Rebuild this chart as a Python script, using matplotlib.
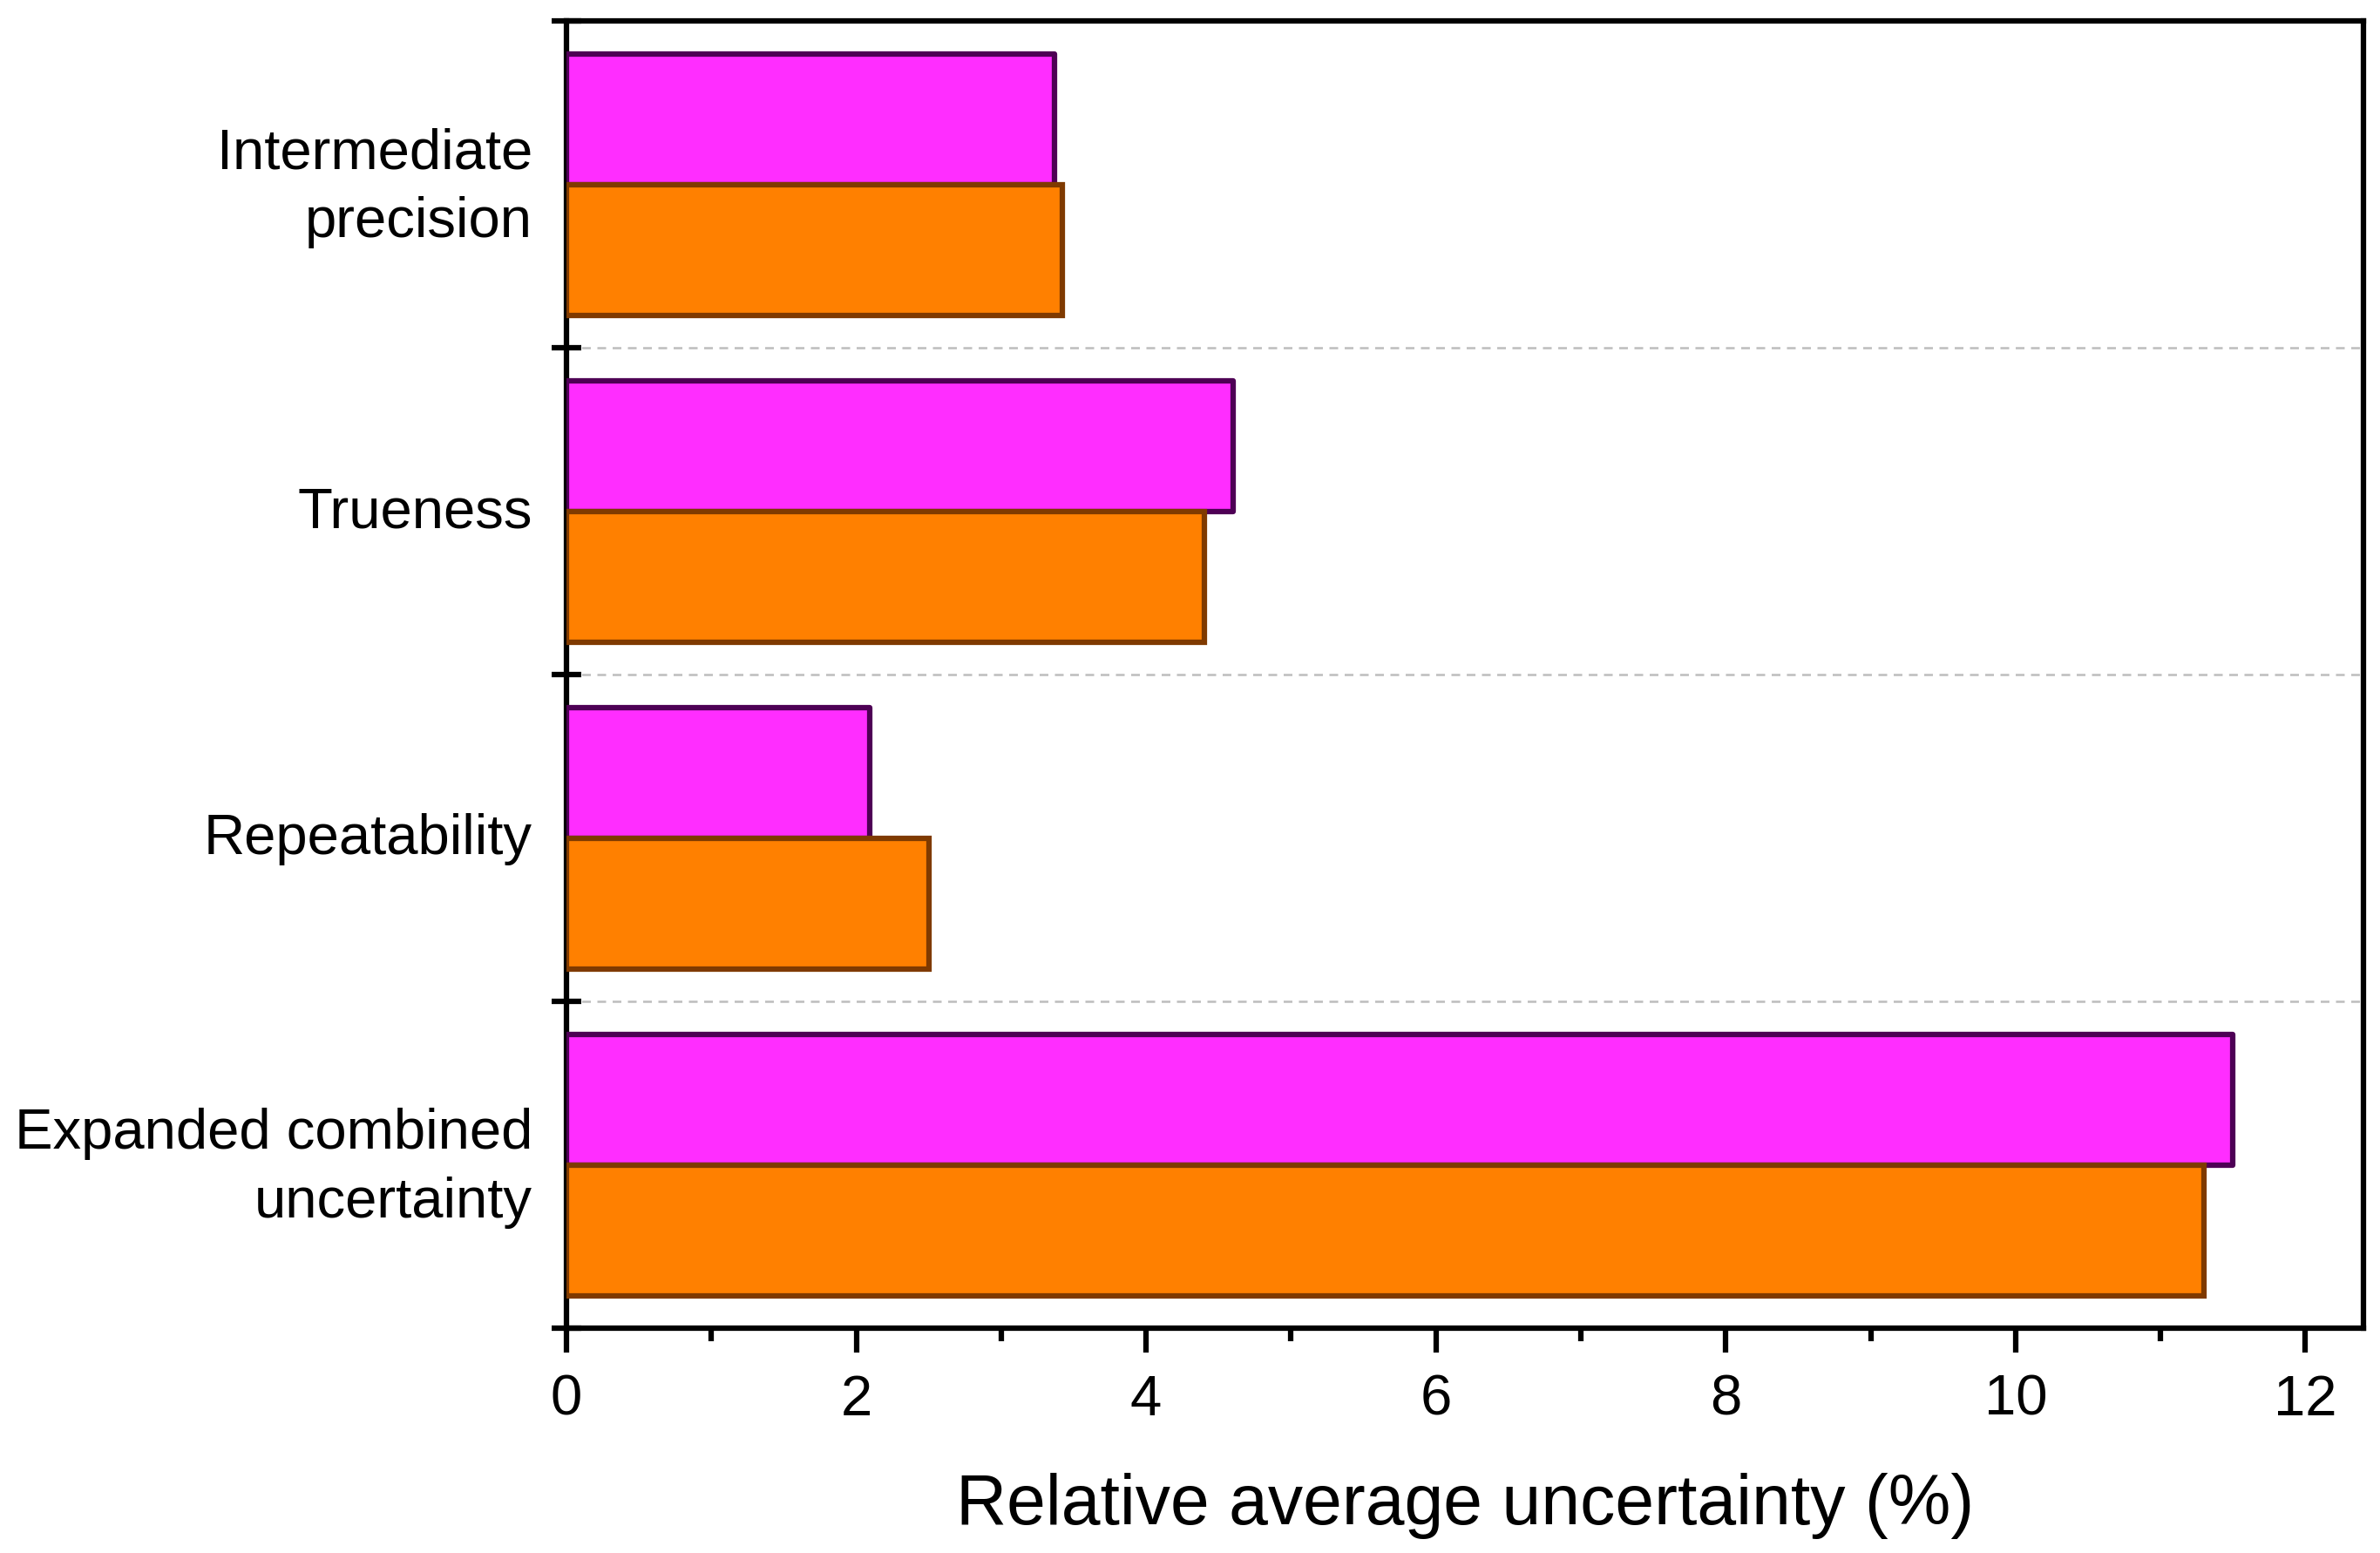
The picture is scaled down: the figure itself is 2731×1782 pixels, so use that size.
import matplotlib
matplotlib.use('Agg')
import matplotlib.pyplot as plt
import matplotlib.transforms as mtransforms
from matplotlib.ticker import MultipleLocator, FixedLocator, NullFormatter

plt.rcParams['font.family'] = ['Liberation Sans', 'DejaVu Sans']

# Data (categories listed bottom to top)
categories = ['Expanded combined\nuncertainty', 'Repeatability', 'Trueness', 'Intermediate\nprecision']
magenta_vals = [11.5, 2.09, 4.60, 3.37]
orange_vals = [11.3, 2.50, 4.40, 3.42]

pos = list(range(len(categories)))
h = 0.4

fig = plt.figure(figsize=(27.31, 17.82), dpi=100)
ax = fig.add_axes([0.238, 0.1447, 0.755, 0.8416])

ax.barh([p + h / 2 for p in pos], magenta_vals, height=h, color='#FF2DFF',
        edgecolor='#4E0055', linewidth=4.5, joinstyle='round', zorder=3)
ax.barh([p - h / 2 for p in pos], orange_vals, height=h, color='#FF8000',
        edgecolor='#7F3A00', linewidth=4.5, zorder=3)

ax.set_xlim(0, 12.4)
ax.set_ylim(-0.5, len(categories) - 0.5)

# x ticks
ax.xaxis.set_major_locator(MultipleLocator(2))
ax.xaxis.set_minor_locator(MultipleLocator(1))
ax.tick_params(axis='x', which='major', direction='out', length=20, width=4.5,
               labelsize=47, pad=18)
ax.tick_params(axis='x', which='minor', direction='out', length=11, width=4.5)

# y ticks at category boundaries, labels at centres
bounds = [p - 0.5 for p in pos] + [len(categories) - 0.5]
ax.yaxis.set_major_locator(FixedLocator(bounds))
ax.yaxis.set_major_formatter(NullFormatter())
ax.yaxis.set_minor_locator(FixedLocator(pos))
ax.set_yticklabels(categories, minor=True)
ax.tick_params(axis='y', which='minor', length=0, labelsize=47, pad=28)
ax.tick_params(axis='y', which='major', direction='inout', length=24, width=4.5)
for lab in ax.get_yticklabels(minor=True):
    lab.set_horizontalalignment('right')
    lab.set_multialignment('right')
    lab.set_linespacing(1.4)
    lab.set_verticalalignment('center_baseline')
    up = 0.12 if '\n' in lab.get_text() else 0.05
    lab.set_transform(lab.get_transform() +
                      mtransforms.ScaledTranslation(0, up, fig.dpi_scale_trans))

for b in bounds[1:-1]:
    ax.axhline(b, color='#BDBDBD', linestyle=(0, (4, 3)), linewidth=1.8, zorder=1)

for s in ax.spines.values():
    s.set_linewidth(4.5)

ax.set_xlabel('Relative average uncertainty (%)', fontsize=58, labelpad=38)

fig.savefig('out.png', dpi=100)
